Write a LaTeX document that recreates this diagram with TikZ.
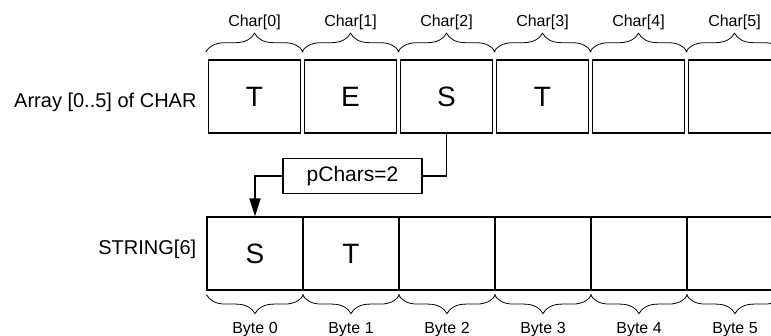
\documentclass[tikz,border=0pt]{standalone}
\usepackage{fontspec}
\setmainfont{Liberation Sans}
\usepackage{tikz}
\usetikzlibrary{arrows.meta, positioning, decorations.pathreplacing}
\tikzstyle{charbox} = [draw, line width=1.6pt, minimum width=92pt, minimum height=73pt, inner sep=0pt, font=\fontsize{28}{32}\selectfont]
\tikzstyle{bytebox} = [draw, line width=1.2pt, minimum width=96pt, minimum height=73pt, inner sep=0pt, font=\fontsize{28}{32}\selectfont]
\tikzstyle{brace} = [decorate, decoration={brace, amplitude=19pt}, line width=0.8pt]
\tikzstyle{ptrbox} = [draw, line width=1.3pt, minimum width=139pt, minimum height=35pt, inner sep=0pt, font=\fontsize{21}{25}\selectfont]
\tikzstyle{ptrarrow} = [line width=1.8pt, -{Triangle[length=18pt, width=11pt]}]
\tikzstyle{idxlabel} = [inner sep=0pt, font=\fontsize{16}{19}\selectfont]
\tikzstyle{rowlabel} = [inner sep=0pt, font=\fontsize{20}{24}\selectfont]

\begin{document}
\begin{tikzpicture}[x=1pt, y=1pt]
    \useasboundingbox (0,0) rectangle (771,336);

    % Array of CHAR (top row)
    \foreach \i/\ch in {0/T, 1/E, 2/S, 3/T, 4/{}, 5/{}} {
        \node[charbox] (c\i) at (254.5+96*\i, 239.5) {\ch};
        \draw[brace] ([xshift=-2pt, yshift=7pt]c\i.north west) -- ([xshift=2pt, yshift=7pt]c\i.north east)
            node[idxlabel, midway, yshift=29.5pt] (ci\i) {Char[\i]};
    }

    % STRING (bottom row)
    \foreach \i/\ch in {0/S, 1/T, 2/{}, 3/{}, 4/{}, 5/{}} {
        \node[bytebox] (b\i) at (255+96*\i, 82.5) {\ch};
        \draw[brace, decoration={mirror}] ([yshift=-4pt]b\i.south west) -- ([yshift=-4pt]b\i.south east)
            node[idxlabel, midway, yshift=-35pt] (bi\i) {Byte \i};
    }

    % Row labels
    \node[rowlabel, left=11pt of c0, yshift=-6pt] (arrlabel) {Array [0..5] of CHAR};
    \node[rowlabel, left=10pt of b0, yshift=4pt] (strlabel) {STRING[6]};

    % Pointer
    \node[ptrbox] (ptr) at (352.5, 160) {pChars=2};
    \draw[line width=1.8pt] (c2.south) |- (ptr.east);
    \draw[ptrarrow] (ptr.west) -| (b0.north);
\end{tikzpicture}
\end{document}
